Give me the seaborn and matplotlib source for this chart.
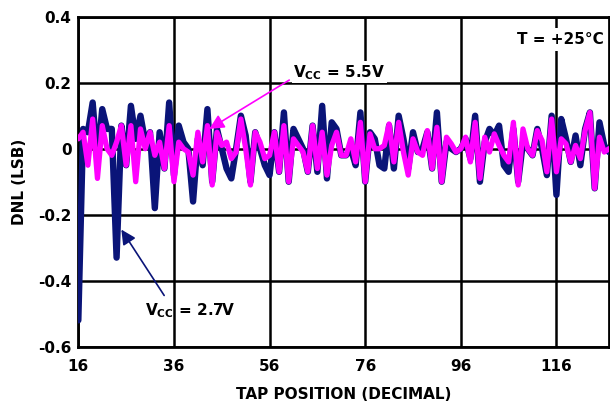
import numpy as np
import pandas as pd
import matplotlib
matplotlib.use("Agg")
import matplotlib.pyplot as plt
import seaborn as sns

# tap positions 16..127
taps = list(range(16, 128))

# DNL (LSB) at VCC = 2.7V (navy)
dnl_27v = [
    -0.52, 0.06, 0.05, 0.14, -0.04, 0.12, 0.06, 0.06, -0.33, 0.07,
    -0.05, 0.13, 0.03, 0.10, 0.02, 0.05, -0.18, 0.05, -0.06, 0.14,
    -0.08, 0.07, 0.02, 0.00, -0.16, 0.03, -0.05, 0.12, -0.10, 0.06,
    0.00, -0.06, -0.09, 0.00, 0.10, 0.04, -0.10, 0.05, 0.00, -0.05,
    -0.08, 0.05, -0.07, 0.11, -0.10, 0.06, 0.03, 0.00, -0.07, 0.07,
    -0.07, 0.13, -0.09, 0.08, 0.06, -0.02, -0.02, 0.00, -0.05, 0.11,
    -0.10, 0.05, 0.03, -0.05, -0.06, 0.07, -0.06, 0.10, 0.03, -0.06,
    0.05, -0.01, 0.00, 0.05, -0.06, 0.11, -0.10, 0.02, 0.00, -0.01,
    0.00, 0.03, -0.03, 0.10, -0.10, 0.02, 0.06, 0.04, 0.07, -0.05,
    -0.07, 0.06, -0.10, 0.02, 0.00, -0.02, 0.06, 0.00, -0.08, 0.10,
    -0.14, 0.09, 0.03, -0.04, 0.04, -0.05, 0.06, 0.11, -0.12, 0.08,
    0.01, -0.01,
]

# DNL (LSB) at VCC = 5.5V (magenta)
dnl_55v = [
    0.03, 0.05, -0.05, 0.09, -0.09, 0.07, 0.00, -0.02, 0.02, 0.07,
    -0.05, 0.07, -0.10, 0.06, 0.00, 0.05, -0.02, 0.02, -0.06, 0.07,
    -0.10, 0.02, 0.00, -0.01, -0.08, 0.05, -0.04, 0.07, -0.11, 0.05,
    0.01, 0.02, -0.03, -0.01, 0.09, 0.00, -0.11, 0.05, 0.02, -0.03,
    -0.02, 0.05, -0.07, 0.07, -0.10, 0.03, 0.01, -0.01, -0.07, 0.07,
    -0.06, 0.05, -0.08, 0.01, 0.05, -0.02, -0.02, 0.03, -0.04, 0.08,
    -0.10, 0.045, 0.00, 0.00, 0.01, 0.075, -0.04, 0.08, -0.01, -0.08,
    0.03, -0.01, -0.02, 0.055, -0.06, 0.065, -0.10, 0.035, 0.015, -0.01,
    0.00, 0.035, -0.04, 0.08, -0.09, 0.035, -0.01, 0.045, 0.01, -0.02,
    -0.04, 0.08, -0.11, 0.06, 0.00, -0.02, 0.055, 0.025, -0.07, 0.09,
    -0.07, 0.03, 0.015, -0.04, 0.01, -0.03, 0.055, 0.11, -0.12, 0.035,
    -0.01, 0.00,
]

x_ticks = [16, 36, 56, 76, 96, 116]
y_ticks = [0.4, 0.2, 0.0, -0.2, -0.4, -0.6]
y_tick_labels = ["0.4", "0.2", "0", "-0.2", "-0.4", "-0.6"]

sns.set_theme(style="white")
plt.rcParams['font.family'] = ['DejaVu Sans']
plt.rcParams['mathtext.fontset'] = 'dejavusans'
plt.rcParams['text.color'] = 'black'
plt.rcParams['axes.labelcolor'] = 'black'
plt.rcParams['xtick.color'] = 'black'
plt.rcParams['ytick.color'] = 'black'

fig = plt.figure(figsize=(6.10, 4.04), dpi=100)
ax = fig.add_axes([0.1284, 0.1418, 0.870, 0.8168])

navy = '#0a1478'
magenta = '#ff00ff'

# navy first, magenta on top
sns.lineplot(x=taps, y=dnl_27v, ax=ax, color=navy, linewidth=4.6, zorder=3)
sns.lineplot(x=taps, y=dnl_55v, ax=ax, color=magenta, linewidth=3.8, zorder=4)

ax.set_xlim(16, 127)
ax.set_ylim(-0.6, 0.4)
ax.set_xticks(x_ticks)
ax.set_yticks(y_ticks)
ax.set_yticklabels(y_tick_labels)
ax.tick_params(axis='x', length=0, labelsize=11, pad=9)
ax.tick_params(axis='y', length=0, labelsize=11, pad=5)
for lab in ax.get_xticklabels() + ax.get_yticklabels():
    lab.set_fontweight('bold')

ax.grid(True, color='black', linewidth=1.8)
ax.set_axisbelow(True)
for spine in ax.spines.values():
    spine.set_visible(True)
    spine.set_color('black')
    spine.set_linewidth(2.0)

ax.set_xlabel('TAP POSITION (DECIMAL)', fontsize=11, fontweight='bold', labelpad=9)
ax.set_ylabel('DNL (LSB)', fontsize=11, fontweight='bold', labelpad=8)

ax.text(125.8, 0.33, 'T = +25°C', fontsize=11, fontweight='bold', ha='right', va='center',
        zorder=5, bbox=dict(facecolor='white', edgecolor='none', pad=3))

ax.annotate(r'V$_{\mathbf{CC}}$ = 5.5V', xy=(43.4, 0.06), xytext=(60.9, 0.232),
            fontsize=11, fontweight='bold', ha='left', va='center', zorder=6,
            bbox=dict(facecolor='white', edgecolor='none', pad=1),
            arrowprops=dict(arrowstyle='-|>', color=magenta, lw=1.2, mutation_scale=22,
                            shrinkA=2, shrinkB=0, relpos=(0, 0.2)))

ax.annotate(r'V$_{\mathbf{CC}}$ = 2.7V', xy=(25.0, -0.245), xytext=(30.0, -0.49),
            fontsize=11, fontweight='bold', ha='left', va='center', zorder=6,
            arrowprops=dict(arrowstyle='-|>', color=navy, lw=1.2, mutation_scale=22,
                            shrinkA=2, shrinkB=0, relpos=(0.25, 1.0)))

fig.savefig('out.png', dpi=100)
